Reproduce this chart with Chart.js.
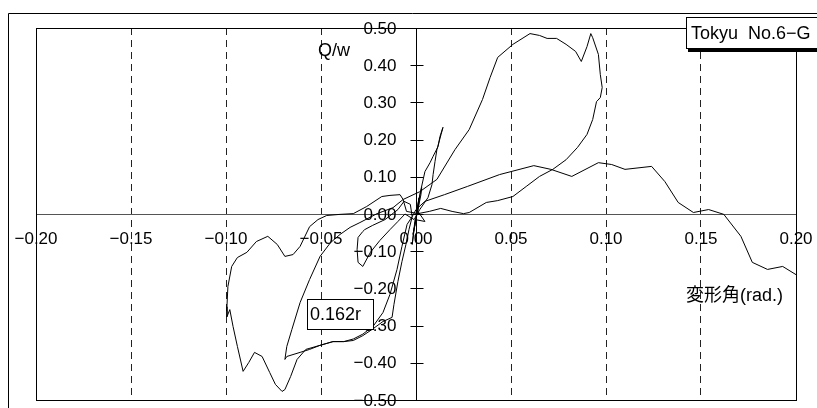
<!DOCTYPE html>
<html>
<head>
<meta charset="utf-8">
<script src="https://cdn.jsdelivr.net/npm/chart.js@4"></script>
<style>
  body { margin: 0; background: #fff; }
  canvas { display: block; }
</style>
</head>
<body>
<canvas id="hys" width="817" height="408"></canvas>
<script>
// drift angle (rad.) and Q/w, in recording order
const driftX = [
  0, 0.001, 0.0016, -0.0005, -0.0016, 0.001, 0.0026, 0.003, 0.0016, -0.001, -0.002, -0.0005, 0.0047, 0.001,
  0.002, 0.0047, 0.0074, 0.009, 0.0116, 0.0126, 0.0142, 0.0132, 0.011, 0.010, 0.009, 0.0084, 0.0063, 0.002, -0.001,
  -0.0058, -0.0095, -0.0137, -0.019, -0.024, -0.028, -0.0305, -0.031, -0.0305, -0.028, -0.027, -0.023, -0.0163, -0.0095, -0.0063, -0.003,
  -0.002, -0.0037, -0.0053, -0.0074, -0.0095, -0.0116, -0.0126, -0.0174, -0.023, -0.028, -0.033, -0.038, -0.0437, -0.0505, -0.056, -0.061, -0.068, -0.069,
  -0.068, -0.0653, -0.061, -0.056, -0.0505, -0.045, -0.040, -0.0347, -0.0295, -0.0205, -0.0121, -0.0068, 0.002, 0.011,
  0.0205, 0.028, 0.035, 0.039, 0.043, 0.051, 0.060, 0.065, 0.069, 0.074, 0.079, 0.084, 0.087, 0.090, 0.092, 0.093, 0.096, 0.097, 0.098,
  0.097, 0.095, 0.093, 0.090, 0.085, 0.079, 0.072, 0.065, 0.058, 0.051, 0.043, 0.037, 0.028, 0.025, 0.019, 0.013, 0.007, 0.001,
  -0.005, -0.0068, -0.0084, -0.0137, -0.018, -0.026, -0.033, -0.040, -0.047, -0.0516, -0.056, -0.061, -0.0647, -0.069, -0.073, -0.078,
  -0.084, -0.089, -0.094, -0.097, -0.099, -0.0995, -0.0995, -0.098, -0.0963, -0.094, -0.091, -0.088, -0.085, -0.081, -0.077, -0.074,
  -0.0705, -0.069, -0.066, -0.0626, -0.058, -0.0505, -0.0437, -0.038, -0.033, -0.028, -0.0226, -0.0174, -0.0137, -0.010, -0.0074, -0.0047, -0.002,
  0, 0.0047, 0.015, 0.027, 0.044, 0.062, 0.071, 0.082, 0.096, 0.103, 0.110, 0.124, 0.131, 0.138, 0.146, 0.154, 0.162,
  0.171, 0.177, 0.185, 0.193, 0.200
];
const loadQw = [
  0, 0.026, 0.044, -0.028, -0.055, 0.012, 0.052, 0.071, 0.039, -0.042, -0.082, -0.015, -0.020, 0.007,
  0.052, 0.114, 0.138, 0.155, 0.181, 0.208, 0.233, 0.214, 0.173, 0.141, 0.106, 0.079, 0.044, 0.012, -0.015,
  0.000, -0.020, -0.042, -0.071, -0.103, -0.141, -0.130, -0.095, -0.063, -0.047, -0.042, -0.031, -0.015, 0.012, 0.034, 0.026,
  -0.007, -0.042, -0.082, -0.128, -0.181, -0.243, -0.278, -0.289, -0.310, -0.327, -0.340, -0.343, -0.343, -0.353, -0.364, -0.372, -0.383, -0.391,
  -0.356, -0.310, -0.238, -0.176, -0.114, -0.077, -0.055, -0.036, -0.023, 0.001, 0.017, 0.039, 0.060, 0.093,
  0.173, 0.227, 0.308, 0.367, 0.421, 0.456, 0.485, 0.480, 0.472, 0.472, 0.456, 0.437, 0.410, 0.450, 0.485, 0.474, 0.429, 0.375, 0.340,
  0.313, 0.302, 0.254, 0.214, 0.179, 0.146, 0.120, 0.101, 0.074, 0.047, 0.036, 0.031, 0.004, 0.001, 0.007, 0.015, 0.007, 0.001,
  0.007, 0.039, 0.052, 0.050, 0.047, 0.020, 0.001, -0.001, -0.004, -0.015, -0.034, -0.087, -0.109, -0.114, -0.082, -0.060,
  -0.074, -0.103, -0.117, -0.141, -0.195, -0.249, -0.276, -0.257, -0.302, -0.356, -0.423, -0.399, -0.372, -0.383, -0.426, -0.458,
  -0.477, -0.472, -0.437, -0.391, -0.364, -0.353, -0.343, -0.343, -0.336, -0.323, -0.302, -0.265, -0.216, -0.149, -0.087, -0.028, -0.007,
  0.012, 0.034, 0.052, 0.074, 0.106, 0.130, 0.120, 0.101, 0.138, 0.133, 0.120, 0.128, 0.087, 0.031, 0.004, 0.012, -0.001,
  -0.060, -0.130, -0.149, -0.141, -0.163
];
const xTicks = [-0.20, -0.15, -0.10, -0.05, 0.00, 0.05, 0.10, 0.15, 0.20];
const yTicks = [-0.50, -0.40, -0.30, -0.20, -0.10, 0.00, 0.10, 0.20, 0.30, 0.40, 0.50];
const specimen = "Tokyu  No.6\u2212G";
const maxDriftNote = "0.162r";
const yTitle = "Q/w";
const xTitle = "変形角(rad.)";

const FONT = "'Liberation Sans', 'Noto Sans CJK JP', sans-serif";
const fmt = v => (v < 0 ? "\u2212" : "") + Math.abs(v).toFixed(2);

// keep the centred axes from taking layout room
const noRoom = s => {
  s.paddingLeft = s.paddingRight = s.paddingTop = s.paddingBottom = 0;
  if (s.isHorizontal()) s.height = 0; else s.width = 0;
};

// frames, y tick crosses + labels, text boxes
const decor = {
  id: "decor",
  afterDraw(chart) {
    const ctx = chart.ctx;
    const a = chart.chartArea;
    const xs = chart.scales.x, ys = chart.scales.y;
    const x0 = Math.round(xs.getPixelForValue(0)) + 0.5;
    ctx.save();
    ctx.strokeStyle = "#000";
    ctx.lineWidth = 1;
    // outer frame
    ctx.beginPath();
    ctx.moveTo(8.5, 408); ctx.lineTo(8.5, 13.5); ctx.lineTo(817, 13.5);
    ctx.stroke();
    // plot frame
    ctx.strokeRect(Math.round(a.left) + 0.5, Math.round(a.top) + 0.5, Math.round(a.right - a.left), Math.round(a.bottom - a.top));
    // y tick crosses and labels
    ctx.beginPath();
    yTicks.forEach(v => {
      const py = Math.round(ys.getPixelForValue(v)) + 0.5;
      ctx.moveTo(x0 - 6, py); ctx.lineTo(x0 + 7, py);
    });
    ctx.stroke();
    ctx.fillStyle = "#000";
    ctx.font = "17px " + FONT;
    ctx.textAlign = "right";
    ctx.textBaseline = "middle";
    yTicks.forEach(v => ctx.fillText(fmt(v), x0 - 20, ys.getPixelForValue(v) + 1));
    // axis titles
    ctx.textAlign = "left";
    ctx.font = "18px " + FONT;
    ctx.fillText(yTitle, 318, 51);
    ctx.fillText(xTitle, 686, 296);
    // specimen box with shadow
    ctx.fillRect(688, 49, 129, 3);
    ctx.fillStyle = "#fff";
    ctx.fillRect(686, 17, 131, 32);
    ctx.strokeRect(686.5, 17.5, 131, 31);
    ctx.fillStyle = "#000";
    ctx.fillText(specimen, 691, 34);
    // max drift box
    ctx.fillStyle = "#fff";
    ctx.fillRect(307, 299, 66, 30);
    ctx.strokeRect(307.5, 299.5, 66, 30);
    ctx.fillStyle = "#000";
    ctx.fillText(maxDriftNote, 310, 315);
    ctx.restore();
  }
};

new Chart(document.getElementById("hys"), {
  type: "scatter",
  plugins: [decor],
  data: {
    datasets: [{
      data: driftX.map((x, i) => ({ x: x, y: loadQw[i] })),
      showLine: true,
      borderColor: "#000",
      borderWidth: 1,
      pointRadius: 0,
      tension: 0,
      fill: false
    }]
  },
  options: {
    responsive: false,
    animation: false,
    layout: { padding: { left: 36, right: 21, top: 28, bottom: 8 } },
    plugins: { legend: { display: false }, tooltip: { enabled: false } },
    scales: {
      x: {
        type: "linear",
        position: { y: 0 },
        min: -0.2, max: 0.2,
        afterFit: noRoom,
        afterBuildTicks: s => { s.ticks = xTicks.map(v => ({ value: v })); },
        ticks: { callback: fmt, color: "#000", font: { size: 17, family: FONT }, padding: 15, maxRotation: 0, autoSkip: false },
        grid: { color: "#222", lineWidth: 1, drawTicks: false },
        border: { display: true, color: "#555", width: 1, dash: [7, 5] }
      },
      y: {
        type: "linear",
        position: { x: 0 },
        min: -0.5, max: 0.5,
        afterFit: noRoom,
        afterBuildTicks: s => { s.ticks = yTicks.map(v => ({ value: v })); },
        ticks: { display: false },
        grid: { drawOnChartArea: false, drawTicks: false },
        border: { display: true, color: "#000", width: 1 }
      }
    }
  }
});
</script>
</body>
</html>
